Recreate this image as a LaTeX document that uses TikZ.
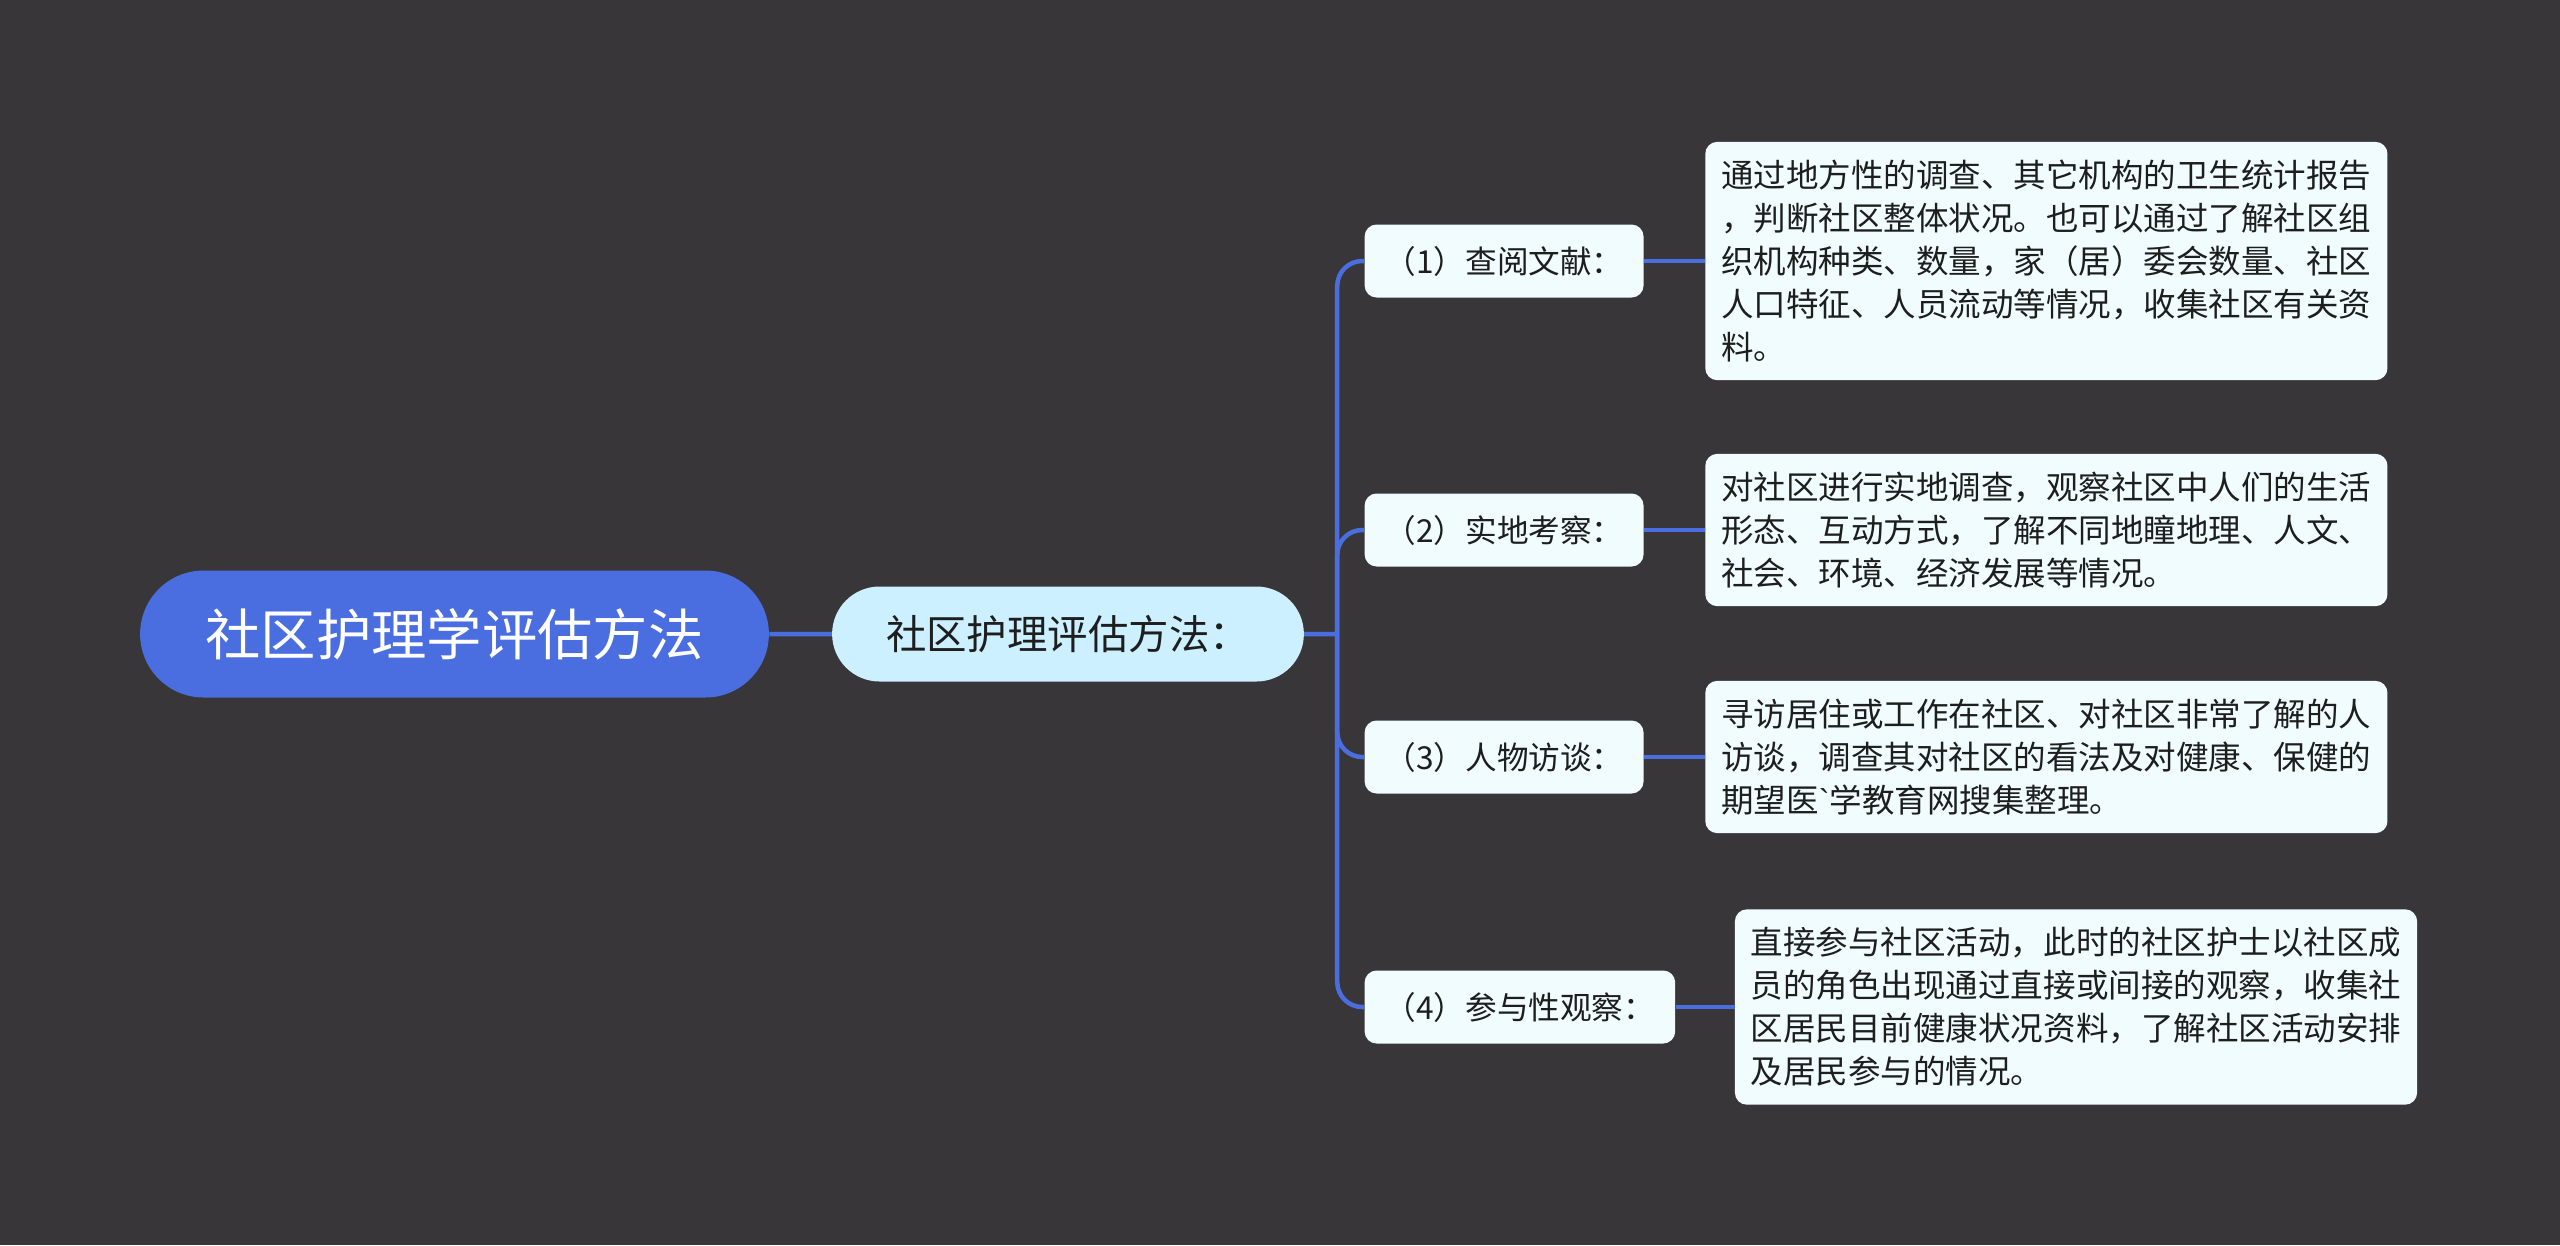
\documentclass[tikz,border=0pt]{standalone}
\usepackage{fontspec}
\setmainfont{Noto Sans CJK SC}
\newfontfamily\latinfont{Liberation Sans}
\usepackage{xcolor}
\usepackage{tikz}
\usetikzlibrary{shapes,positioning,calc}

\definecolor{bgdark}{HTML}{383638}
\definecolor{rootblue}{HTML}{4A6EE0}
\definecolor{subcyan}{HTML}{CCF0FF}
\definecolor{leafwhite}{HTML}{F0FCFD}
\definecolor{textdark}{HTML}{1E1E1E}

\begin{document}
\begin{tikzpicture}[
    root/.style={rounded rectangle, fill=rootblue, text=white, minimum width=12.81cm, minimum height=2.54cm, font=\fontsize{31.5pt}{36pt}\selectfont},
    topic/.style={rounded rectangle, fill=subcyan, text=textdark, minimum width=9.67cm, minimum height=1.9cm, font=\fontsize{23pt}{28pt}\selectfont},
    item/.style={rectangle, rounded corners=0.24cm, fill=leafwhite, text=textdark, minimum height=1.46cm, inner xsep=0.4cm, font=\fontsize{18pt}{24pt}\selectfont},
    leaf/.style={rectangle, rounded corners=0.24cm, fill=leafwhite, text=textdark, align=left, inner xsep=0.32cm, inner ysep=0.36cm, font=\fontsize{18.5pt}{24.5pt}\selectfont},
    link/.style={draw=rootblue, line width=0.09cm}
]
\fill[bgdark] (0,0) rectangle (51.2,-24.9);
\useasboundingbox (0,0) rectangle (51.2,-24.9);

\node[root] (root) at (9.09,-12.68) {社区护理学评估方法};
\node[topic, right=1.25cm of root] (method) {社区护理评估方法：};
\coordinate[right=0.66cm of method] (hub);

\node[item, right=1.2cm of method, yshift=7.46cm] (lit) {（1）查阅文献：};
\node[item, right=1.2cm of method, yshift=2.08cm] (field) {（2）实地考察：};
\node[item, right=1.2cm of method, yshift=-2.46cm] (talk) {（3）人物访谈：};
\node[item, right=1.2cm of method, yshift=-7.46cm] (obs) {（4）参与性观察：};

\node[leaf, right=1.22cm of lit] (litnote) {通过地方性的调查、其它机构的卫生统计报告\\，判断社区整体状况。也可以通过了解社区组\\织机构种类、数量，家（居）委会数量、社区\\人口特征、人员流动等情况，收集社区有关资\\料。};
\node[leaf, right=1.22cm of field] (fieldnote) {对社区进行实地调查，观察社区中人们的生活\\形态、互动方式，了解不同地瞳地理、人文、\\社会、环境、经济发展等情况。};
\node[leaf, right=1.22cm of talk] (talknote) {寻访居住或工作在社区、对社区非常了解的人\\访谈，调查其对社区的看法及对健康、保健的\\期望医{\latinfont\char"60}学教育网搜集整理。};
\node[leaf, right=1.18cm of obs] (obsnote) {直接参与社区活动，此时的社区护士以社区成\\员的角色出现通过直接或间接的观察，收集社\\区居民目前健康状况资料，了解社区活动安排\\及居民参与的情况。};

\draw[link] (root) -- (method);
\draw[link] (method) -- (hub);
\foreach \b in {lit,field,talk,obs}
  \draw[link, rounded corners=0.5cm] (hub) |- (\b.west);
\draw[link] (lit) -- (litnote);
\draw[link] (field) -- (fieldnote);
\draw[link] (talk) -- (talknote);
\draw[link] (obs) -- (obsnote);
\end{tikzpicture}
\end{document}
